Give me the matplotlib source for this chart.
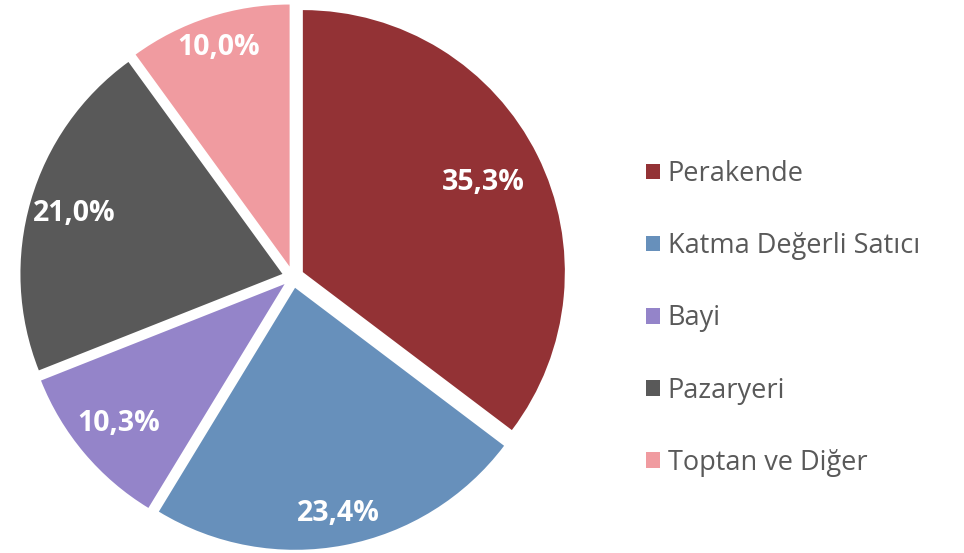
import numpy as np
import matplotlib.pyplot as plt

plt.rcParams['font.family'] = ['Open Sans', 'DejaVu Sans']

labels = ['Perakende', 'Katma Değerli Satıcı', 'Bayi', 'Pazaryeri', 'Toptan ve Diğer']
shares = [35.3, 23.4, 10.3, 21.0, 10.0]
colors = ['#933235', '#6790BB', '#9484C9', '#595959', '#F09BA0']
# label distance from pie centre, as fraction of radius (Excel "best fit" look)
label_dist = [0.81, 0.92, 0.87, 0.87, 0.92]

R_PX = 262.0
fig = plt.figure(figsize=(9.64, 5.53), dpi=100)
half = 290.0
cx, cy = 293.0, 553 - 277.0
ax = fig.add_axes([(cx - half) / 964, (cy - half) / 553, 2 * half / 964, 2 * half / 553])
lim = half / R_PX
ax.set_aspect('equal')
ax.axis('off')

explode = [11 / R_PX] * len(shares)
wedges, _ = ax.pie(shares, colors=colors, startangle=90, counterclock=False,
                   explode=explode, radius=1.0, wedgeprops=dict(linewidth=0))
ax.set_xlim(-lim, lim)
ax.set_ylim(-lim, lim)

for w, val, d in zip(wedges, shares, label_dist):
    mid = np.deg2rad((w.theta1 + w.theta2) / 2)
    ax.text(d * np.cos(mid), d * np.sin(mid), f'{val:.1f}%'.replace('.', ','),
            ha='center', va='center', color='white', fontsize=20.5, fontweight='bold')

fig.legend(wedges, labels, loc='center left', bbox_to_anchor=(646 / 964, 234.5 / 553),
           frameon=False, fontsize=19.5, labelcolor='#595959',
           handlelength=0.5, handleheight=0.5, handletextpad=0.3,
           labelspacing=1.63, borderpad=0, borderaxespad=0)

fig.savefig('out.png', dpi=100)
